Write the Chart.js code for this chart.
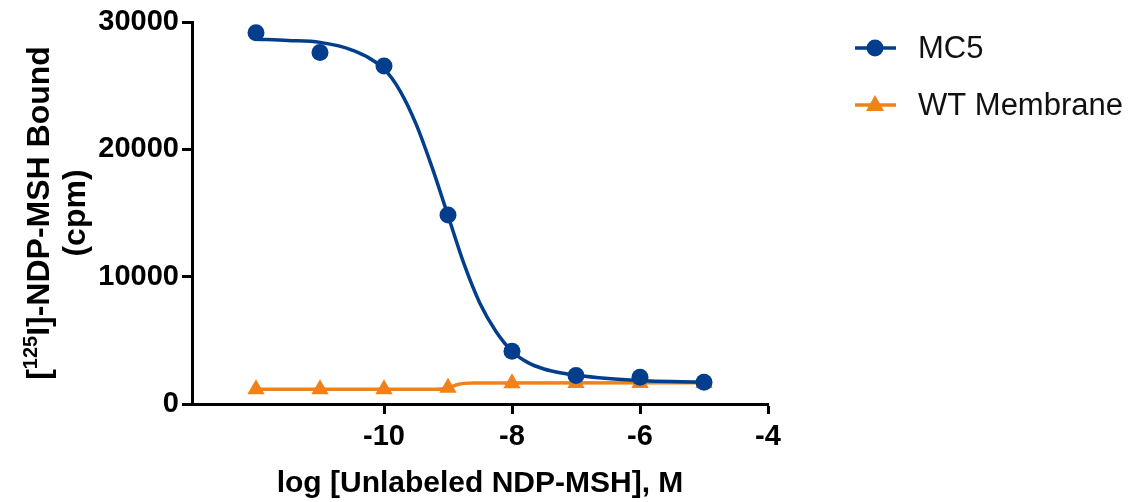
<!DOCTYPE html>
<html>
<head>
<meta charset="utf-8">
<title>NDP-MSH competition binding</title>
<script src="https://cdn.jsdelivr.net/npm/chart.js@4/dist/chart.umd.min.js"></script>
<style>
  html, body { margin: 0; padding: 0; background: #ffffff; }
  #wrap { width: 1139px; height: 502px; }
</style>
</head>
<body>
<div id="wrap"><canvas id="chart" width="1139" height="502"></canvas></div>
<script>
// Measured points (log M vs cpm)
const logDose = [-12, -11, -10, -9, -8, -7, -6, -5];
const mc5Bound = [29150, 27600, 26550, 14850, 4150, 2230, 2100, 1700];
const wtBound = [1150, 1150, 1150, 1270, 1620, 1650, 1650, 1650];

// Fitted curves
const mc5CurveX = [-12, -11.5, -11, -10.5, -10, -9.75, -9.5, -9.25, -9, -8.75, -8.5, -8.25, -8, -7.75, -7.5, -7.25, -7, -6.5, -6, -5.5, -5];
const mc5CurveY = [28650, 28550, 28400, 27800, 26300, 24600, 22000, 18600, 14800, 11000, 7900, 5700, 4150, 3250, 2750, 2450, 2250, 2000, 1850, 1760, 1720];
const wtCurveX = [-12, -9.2, -9.05, -8.95, -8.85, -8.75, -8.6, -5];
const wtCurveY = [1150, 1160, 1200, 1350, 1530, 1620, 1650, 1660];

// Axis ticks
const xTicks = [-10, -8, -6, -4];
const yTicks = [0, 10000, 20000, 30000];

const seriesNames = ['MC5', 'WT Membrane'];
const BLUE = '#023e8c';
const ORANGE = '#f0821c';
const FONT = "'Liberation Sans', Arial, Helvetica, sans-serif";

const toXY = (xs, ys) => xs.map((x, i) => ({ x: x, y: ys[i] }));

// y axis title with the superscript isotope number
const yTitlePlugin = {
  id: 'yTitle',
  afterDraw(chart) {
    const ctx = chart.ctx;
    const cy = (chart.chartArea.top + chart.chartArea.bottom) / 2;
    const big = 'bold 32px ' + FONT;
    const small = 'bold 20px ' + FONT;
    ctx.save();
    ctx.fillStyle = '#000';
    ctx.textBaseline = 'alphabetic';
    // first line
    ctx.save();
    ctx.translate(49, cy);
    ctx.rotate(-Math.PI / 2);
    const parts = [['[', big, 0], ['125', small, -12], ['I]-NDP-MSH Bound', big, 0]];
    let total = 0;
    parts.forEach(p => { ctx.font = p[1]; total += ctx.measureText(p[0]).width; });
    let x = -total / 2;
    parts.forEach(p => {
      ctx.font = p[1];
      ctx.fillText(p[0], x, p[2]);
      x += ctx.measureText(p[0]).width;
    });
    ctx.restore();
    // second line
    ctx.save();
    ctx.translate(85, cy);
    ctx.rotate(-Math.PI / 2);
    ctx.font = big;
    ctx.textAlign = 'center';
    ctx.fillText('(cpm)', 0, 0);
    ctx.restore();
    ctx.restore();
  }
};

// legend drawn as line + marker, like the original
const legendPlugin = {
  id: 'lineLegend',
  afterDraw(chart) {
    const ctx = chart.ctx;
    const rows = [
      { name: seriesNames[0], color: BLUE, marker: 'circle', y: 48 },
      { name: seriesNames[1], color: ORANGE, marker: 'triangle', y: 105 }
    ];
    ctx.save();
    rows.forEach(r => {
      ctx.strokeStyle = r.color;
      ctx.fillStyle = r.color;
      ctx.lineWidth = 3.5;
      ctx.beginPath();
      ctx.moveTo(855, r.y);
      ctx.lineTo(896, r.y);
      ctx.stroke();
      ctx.beginPath();
      if (r.marker === 'circle') {
        ctx.arc(875, r.y, 8.5, 0, Math.PI * 2);
      } else {
        ctx.moveTo(875, r.y - 10);
        ctx.lineTo(884, r.y + 6);
        ctx.lineTo(866, r.y + 6);
        ctx.closePath();
      }
      ctx.fill();
      ctx.fillStyle = '#111';
      ctx.font = '31px ' + FONT;
      ctx.textBaseline = 'middle';
      ctx.fillText(r.name, 918, r.y + 1);
    });
    ctx.restore();
  }
};

const axisGrid = { display: true, drawOnChartArea: false, drawTicks: true, tickLength: 10, tickWidth: 3, tickColor: '#000' };
const plainNumber = v => String(v);

try {
  new Chart(document.getElementById('chart'), {
    type: 'scatter',
    data: {
      datasets: [
        {
          label: seriesNames[0], data: toXY(logDose, mc5Bound),
          backgroundColor: BLUE, borderColor: BLUE, pointStyle: 'circle',
          pointRadius: 8.5, pointBorderWidth: 0, showLine: false
        },
        {
          label: seriesNames[1], data: toXY(logDose, wtBound),
          backgroundColor: ORANGE, borderColor: ORANGE, pointStyle: 'triangle',
          pointRadius: 10, pointBorderWidth: 0, showLine: false
        },
        {
          label: seriesNames[0] + ' fit', data: toXY(mc5CurveX, mc5CurveY),
          borderColor: BLUE, borderWidth: 3.5, pointRadius: 0, showLine: true,
          cubicInterpolationMode: 'monotone', fill: false
        },
        {
          label: seriesNames[1] + ' fit', data: toXY(wtCurveX, wtCurveY),
          borderColor: ORANGE, borderWidth: 3.5, pointRadius: 0, showLine: true,
          cubicInterpolationMode: 'monotone', fill: false
        }
      ]
    },
    options: {
      responsive: false,
      animation: false,
      layout: { padding: { top: 22, right: 371, left: 0, bottom: 0 } },
      plugins: { legend: { display: false }, tooltip: { enabled: false } },
      scales: {
        x: {
          type: 'linear', min: -13, max: -4,
          border: { display: true, color: '#000', width: 3 },
          grid: axisGrid,
          afterBuildTicks: s => { s.ticks = xTicks.map(v => ({ value: v })); },
          afterFit: s => { s.height = 98; },
          ticks: { color: '#000', padding: 6, callback: plainNumber, font: { family: FONT, size: 29, weight: 'bold' } },
          title: {
            display: true, text: 'log [Unlabeled NDP-MSH], M', color: '#000',
            padding: { top: 2, bottom: 0 },
            font: { family: FONT, size: 30, weight: 'bold' }
          }
        },
        y: {
          type: 'linear', min: 0, max: 30000,
          border: { display: true, color: '#000', width: 3 },
          grid: axisGrid,
          afterBuildTicks: s => { s.ticks = yTicks.map(v => ({ value: v })); },
          afterFit: s => { s.width = 192; },
          ticks: { color: '#000', padding: 3, callback: plainNumber, font: { family: FONT, size: 29, weight: 'bold' } }
        }
      }
    },
    plugins: [yTitlePlugin, legendPlugin]
  });
} catch (error) {
  console.error('Error drawing chart:', error.message);
}
</script>
</body>
</html>
